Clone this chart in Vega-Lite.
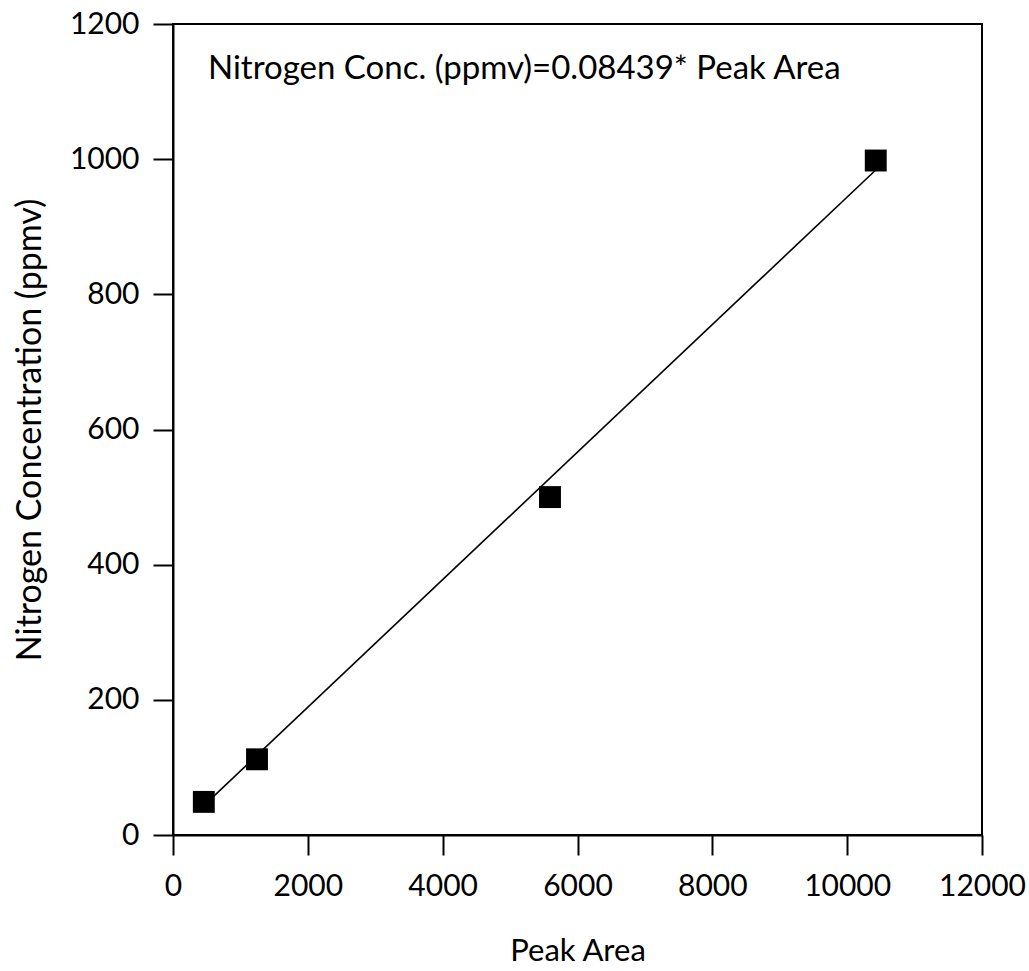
{
  "$schema": "https://vega.github.io/schema/vega-lite/v6.json",
  "width": 809,
  "height": 811,
  "autosize": {"type": "none"},
  "padding": {"left": 173, "top": 24, "right": 47, "bottom": 136},
  "background": "white",
  "config": {
    "font": "Lato",
    "view": {"stroke": "black", "strokeWidth": 2},
    "axis": {
      "grid": false,
      "domainColor": "black",
      "domainWidth": 2,
      "tickColor": "black",
      "tickWidth": 2,
      "tickSize": 20,
      "labelFont": "Lato",
      "labelFontSize": 30,
      "labelColor": "black",
      "labelFlush": false,
      "labelOverlap": false,
      "titleFont": "Lato",
      "titleFontWeight": "normal",
      "titleColor": "black"
    }
  },
  "datasets": {
    "points": [
      {"area": 457, "conc": 49},
      {"area": 1246, "conc": 112},
      {"area": 5592, "conc": 500},
      {"area": 10424, "conc": 998}
    ],
    "fit": [
      {"area": 457, "conc": 43.5},
      {"area": 10424, "conc": 984}
    ],
    "note": [
      {"area": 519, "conc": 1118, "label": "Nitrogen Conc. (ppmv)=0.08439* Peak Area"}
    ]
  },
  "layer": [
    {
      "data": {"name": "fit"},
      "mark": {"type": "line", "color": "black", "strokeWidth": 1.6},
      "encoding": {
        "x": {"field": "area", "type": "quantitative", "scale": {"domain": [0, 12000]},
          "axis": {"title": "Peak Area", "titleFontSize": 31, "values": [0, 2000, 4000, 6000, 8000, 10000, 12000], "format": "d", "labelPadding": 16, "titlePadding": 35}},
        "y": {"field": "conc", "type": "quantitative", "scale": {"domain": [0, 1200]},
          "axis": {"title": "Nitrogen Concentration (ppmv)", "titleFontSize": 34, "values": [0, 200, 400, 600, 800, 1000, 1200], "format": "d", "labelPadding": 14, "titlePadding": 22}}
      }
    },
    {
      "data": {"name": "points"},
      "mark": {"type": "point", "shape": "square", "filled": true, "color": "black", "opacity": 1, "size": 480},
      "encoding": {
        "x": {"field": "area", "type": "quantitative"},
        "y": {"field": "conc", "type": "quantitative"}
      }
    },
    {
      "data": {"name": "note"},
      "mark": {"type": "text", "align": "left", "baseline": "alphabetic", "fontSize": 33, "font": "Lato", "color": "black"},
      "encoding": {
        "x": {"field": "area", "type": "quantitative"},
        "y": {"field": "conc", "type": "quantitative"},
        "text": {"field": "label"}
      }
    }
  ]
}
